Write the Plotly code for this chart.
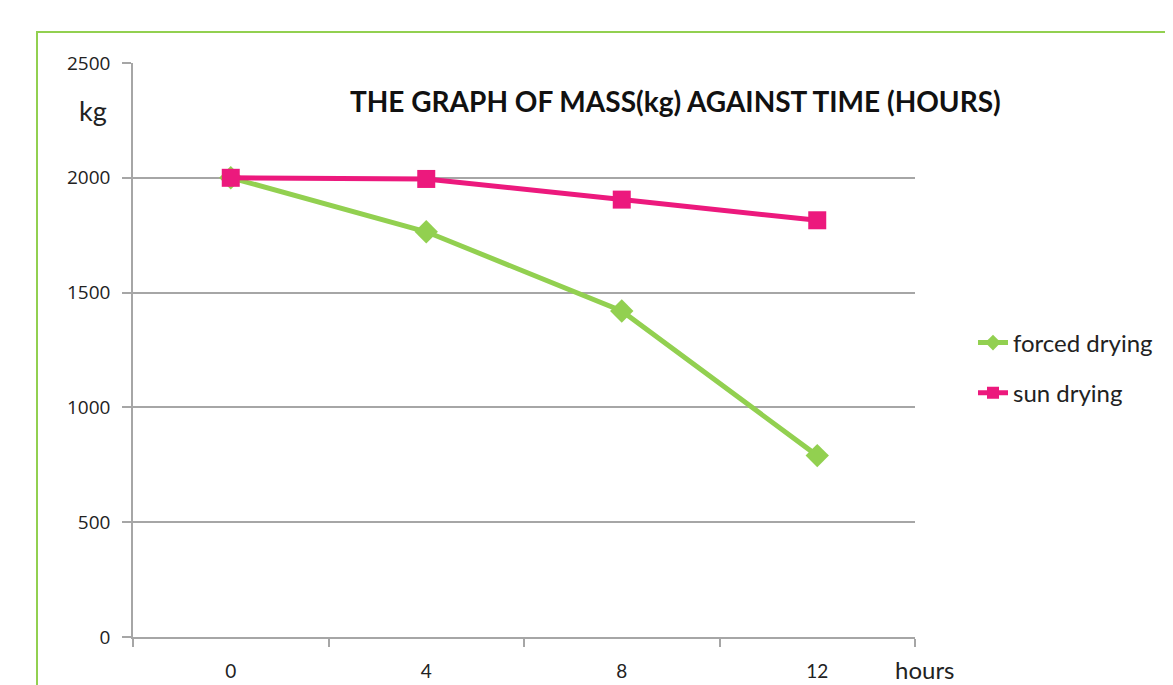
import plotly.graph_objects as go

hours = ["0", "4", "8", "12"]
forced_drying = [2000, 1765, 1420, 790]
sun_drying = [2000, 1995, 1905, 1815]
y_ticks = [0, 500, 1000, 1500, 2000, 2500]

GREEN = "#92D050"
PINK = "#EC197D"
GRID = "#A6A6A6"

fig = go.Figure()
fig.add_trace(go.Scatter(
    x=hours, y=forced_drying, name="forced drying", mode="lines+markers",
    legendgroup="a",
    line=dict(color=GREEN, width=5),
    marker=dict(symbol="diamond", size=18, color=GREEN),
))
fig.add_trace(go.Scatter(
    x=hours, y=sun_drying, name="sun drying", mode="lines+markers",
    legendgroup="b",
    line=dict(color=PINK, width=5),
    marker=dict(symbol="square", size=18, color=PINK),
))

# page body has an 8px margin; work in screen coordinates and compensate
OFF = 8
SW, SH = 1173, 685
SL, SR, ST, SB = 133, 915, 63, 637
fig.update_layout(
    width=SW - OFF, height=SH - OFF,
    margin=dict(l=SL - OFF, r=SW - SR, t=ST - OFF, b=SH - SB, autoexpand=False),
    paper_bgcolor="white", plot_bgcolor="white",
    font=dict(family="Open Sans", color="#222222", size=16),
    showlegend=True,
    legend=dict(x=(973 - SL) / (SR - SL), y=(SB - 368) / (SB - ST),
                xanchor="left", yanchor="middle",
                font=dict(family="Lato", size=24, color="#222222"),
                traceorder="grouped", tracegroupgap=16,
                itemsizing="constant", bgcolor="rgba(0,0,0,0)"),
    xaxis=dict(
        type="category", range=[-0.5, 3.5], automargin=False,
        showgrid=False, showline=True, linecolor=GRID, linewidth=1.5,
        ticks="outside", ticklen=8, tickcolor=GRID, tickwidth=1.5,
        tickson="boundaries", ticklabelstandoff=16,
        tickfont=dict(family="Lato", size=19, color="#222222"),
        fixedrange=True,
    ),
    yaxis=dict(
        range=[0, 2500], tickvals=y_ticks, automargin=False,
        showgrid=True, gridcolor=GRID, gridwidth=1.5,
        showline=True, linecolor=GRID, linewidth=1.5,
        zeroline=False,
        ticks="outside", ticklen=9, tickcolor=GRID, tickwidth=1.5,
        ticklabelstandoff=8,
        tickfont=dict(family="Open Sans", size=19, color="#222222"),
        fixedrange=True,
    ),
)

pw, ph = SR - SL, SB - ST
def px(x):
    return (x - SL) / pw
def py(y):
    return (SB - y) / ph

# green frame around the chart
fig.add_shape(type="rect", xref="paper", yref="paper",
              x0=px(37), x1=px(1300), y0=py(32), y1=py(720),
              line=dict(color=GREEN, width=2), fillcolor="rgba(0,0,0,0)", layer="below")

fig.add_annotation(text="<b>THE GRAPH OF MASS(kg) AGAINST TIME (HOURS)</b>",
                   xref="paper", yref="paper", x=px(675), y=py(101),
                   showarrow=False, xanchor="center", yanchor="middle",
                   font=dict(family="Lato", size=28, color="#111111"))
fig.add_annotation(text="kg", xref="paper", yref="paper", x=px(109), y=py(111),
                   showarrow=False, xanchor="right", yanchor="middle",
                   font=dict(family="Lato", size=27, color="#222222"))
fig.add_annotation(text="hours", xref="paper", yref="paper", x=px(893), y=py(669),
                   showarrow=False, xanchor="left", yanchor="middle",
                   font=dict(family="Lato", size=24, color="#222222"))

fig.write_html("out.html")
